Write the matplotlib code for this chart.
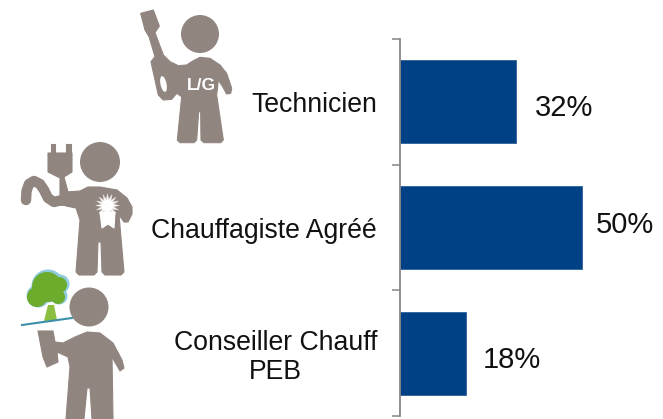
import matplotlib
matplotlib.use('Agg')
import matplotlib.pyplot as plt
from matplotlib.patches import Circle, Polygon, Ellipse

plt.rcParams['font.family'] = ['Liberation Sans', 'DejaVu Sans']

categories = ['Technicien', 'Chauffagiste Agréé', 'Conseiller Chauff\nPEB']
values = [32, 50, 18]
value_labels = ['32%', '50%', '18%']

GREY = '#918580'
BLUE = '#004085'

fig = plt.figure(figsize=(6.63, 4.19), dpi=100)

# bars
ax = fig.add_axes([400/663, 1-416/419, 263/663, 377/419])
ypos = [0.5, 1.5, 2.5]
ax.barh(ypos, values, height=0.66, color=BLUE, edgecolor='#2f6098', linewidth=0.6)
ax.set_xlim(0, 263/3.64)
ax.set_ylim(3, 0)
ax.set_yticks(ypos)
ax.set_yticklabels(categories, fontsize=19.2, multialignment='center', color='#111111', linespacing=1.15)
ax.set_yticks([0, 1, 2, 3], minor=True)
ax.tick_params(axis='y', which='major', length=0, pad=16.5)
ax.tick_params(axis='y', which='minor', length=6, width=1.1, color='#868686')
ax.xaxis.set_visible(False)
for s in ['top', 'right', 'bottom']:
    ax.spines[s].set_visible(False)
ax.spines['left'].set_color('#868686')
ax.spines['left'].set_linewidth(1.3)

# value labels, small offsets as in the original
offs = [(13, -4.5), (10, 2), (12.5, -5)]
for y, v, t, o in zip(ypos, values, value_labels, offs):
    ax.annotate(t, (v, y), xytext=o, textcoords='offset points', va='center', ha='left',
                fontsize=21, color='#111111')

# icons on an overlay in pixel coords
ov = fig.add_axes([0, 0, 1, 1], zorder=5)
ov.set_xlim(0, 663)
ov.set_ylim(419, 0)
ov.axis('off')


def poly(pts, color=GREY, z=2):
    ov.add_patch(Polygon(pts, closed=True, fc=color, ec=color, lw=0.8, joinstyle='round', zorder=z))


tech = [(422, 40), (460, 30), (478, 78), (465, 98), (490, 165), (510, 185), (535, 197), (560, 195),
        (580, 182), (600, 172), (630, 175), (660, 195), (680, 220), (695, 265), (692, 280), (680, 282),
        (668, 260), (655, 240), (650, 285), (670, 420), (662, 428), (612, 428), (603, 420), (602, 335),
        (596, 335), (590, 420), (582, 428), (540, 428), (532, 420), (545, 290), (530, 280), (515, 298),
        (490, 300), (475, 285), (465, 240), (455, 195), (453, 185), (465, 170), (447, 110), (435, 90)]
poly([(x/3, y/3) for x, y in tech])
ov.add_patch(Circle((200, 34), 19, fc=GREY, ec='none'))
ov.add_patch(Ellipse((163.5, 84), 6, 16, angle=-12, fc='white', ec='none', zorder=3))
ov.text(201, 85.5, 'L/G', color='white', fontsize=12.5, fontweight='bold', ha='center', va='center', zorder=4)

# heating engineer
ov.add_patch(Circle((100, 162), 20, fc=GREY, ec='none'))
poly([(67, 192), (80, 191), (88, 187), (100, 187), (117, 190), (127, 198), (132, 207), (132, 214),
      (128, 222), (124, 222), (119, 215), (124, 272), (121, 275), (105, 275), (102, 272), (101, 242),
      (98, 242), (97, 272), (94, 275), (79, 275), (76, 272), (80, 220), (76, 208), (66, 206)])
poly([(48, 153), (72, 153), (72, 172), (64, 177), (68, 192), (70, 206), (60, 205), (60, 178), (48, 172)])
poly([(51, 144), (55, 144), (55, 154), (51, 154)])
poly([(66, 144), (71, 144), (71, 154), (66, 154)])
ov.plot([26, 26.5, 29, 34, 40, 44, 48, 54, 62], [200, 191, 184, 181, 184, 190, 198, 202, 200],
        color=GREY, lw=7.5, solid_capstyle='round', solid_joinstyle='round', zorder=2)
# rosette
ov.plot([107], [205], marker=(16, 1, 0), ms=17, mfc='white', mec='#e6e2e0', mew=0.4, zorder=3)
poly([(100, 212), (115, 212), (114, 228), (108, 224), (102, 228)], color='white', z=3)

# PEB adviser
ov.add_patch(Circle((89, 307), 19.5, fc=GREY, ec='none'))
poly([(38, 331), (53, 331), (55, 342), (63, 343), (75, 337), (87, 332), (100, 333), (113, 343),
      (122, 360), (124, 368), (120, 371), (112, 357), (113, 419), (92, 419), (90, 388), (87, 388),
      (84, 419), (66, 419), (70, 367), (68, 357), (57, 352), (58, 362), (47, 367), (43, 357)])
# tree
lobes = [(47, 287, 15), (37, 297, 10), (58, 297, 7), (59, 285, 8)]
for x, y, r in lobes:
    ov.add_patch(Circle((x + 1, y - 1), r + 1.5, fc='#8ecbdc', ec='none', zorder=1))
for x, y, r in lobes:
    ov.add_patch(Circle((x, y), r, fc='#6cab2c', ec='none', zorder=1.5))
ov.add_patch(Polygon([(44, 321), (48, 305), (54, 305), (57, 320)], fc='#8bbf3f', ec='none', zorder=1.6))
ov.plot([22, 72], [325, 318], color='#3e8fa8', lw=1.5, zorder=2)

fig.savefig('out.png', dpi=100)
